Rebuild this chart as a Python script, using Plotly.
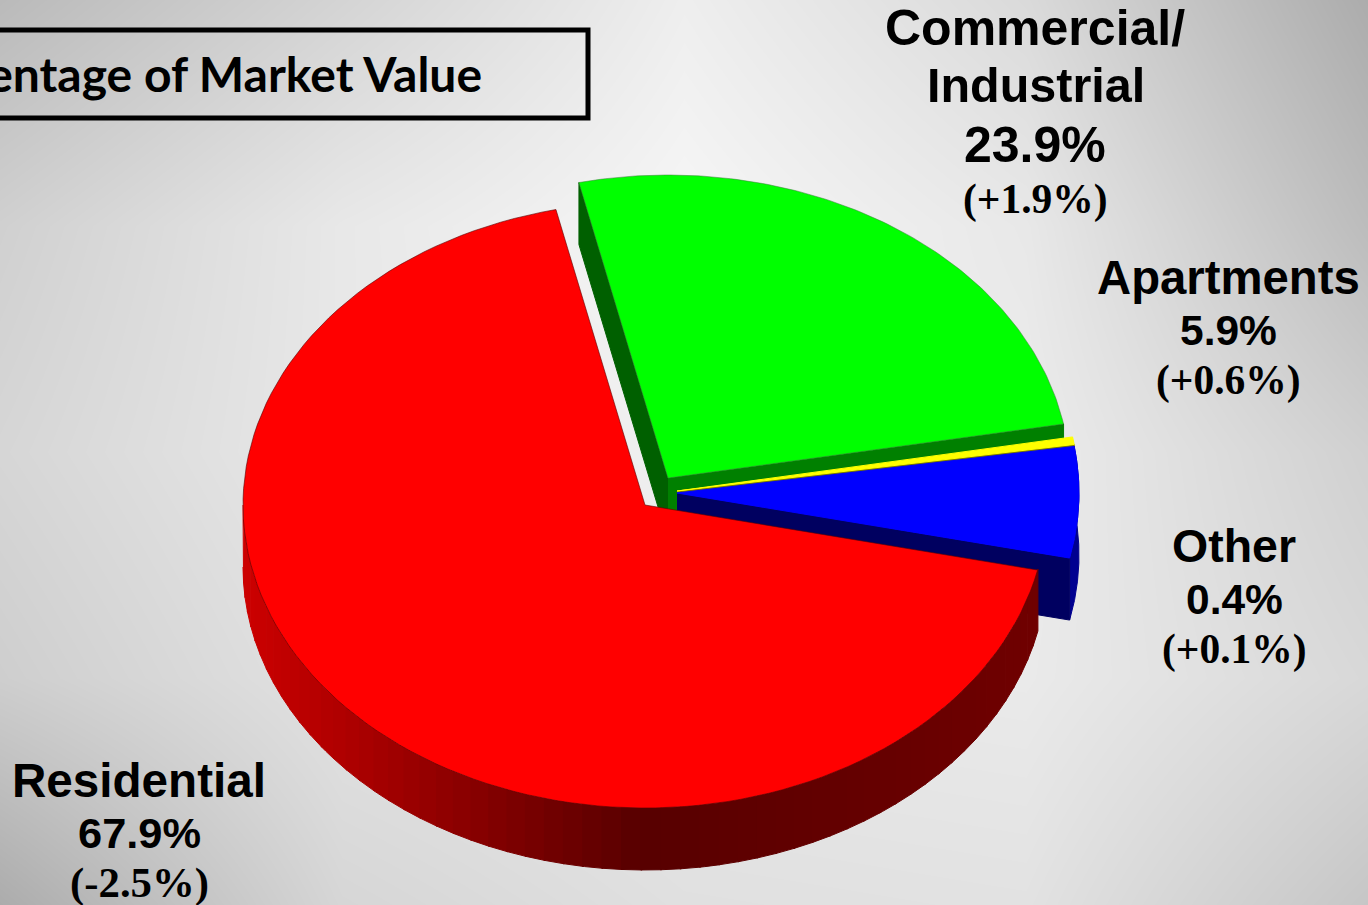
import numpy as np
import plotly.graph_objects as go


# Slices as they are labelled on the slide
labels = ["Apartments", "Other", "Commercial/Industrial", "Residential"]
label_pct = ["5.9%", "0.4%", "23.9%", "67.9%"]
label_change = ["(+0.6%)", "(+0.1%)", "(+1.9%)", "(-2.5%)"]

# Share of the ellipse each slice covers as drawn (perspective widens the green one)
drawn_share = [5.9, 0.4, 25.7, 68.0]

# Background greys
bg_x = [0, 342, 684, 1026, 1368]
bg_y = [0, 226, 452, 678, 905]
bg_grey = [
    [186, 212, 238, 218, 172],
    [208, 232, 246, 232, 188],
    [214, 232, 240, 236, 208],
    [206, 226, 232, 234, 216],
    [172, 214, 224, 226, 198],
]

A, B, DEPTH = 402, 303, 62
START = -12.4  # angle of the blue/red edge, slices run counter clockwise from it


def arc(cx, cy, t0, t1, dy=0, n=120):
    t = np.radians(np.linspace(t0, t1, n))
    return cx + A * np.cos(t), cy - B * np.sin(t) + dy


def poly(fig, x, y, color, line=None, width=1):
    fig.add_trace(go.Scatter(
        x=list(x), y=list(y), mode="lines", fill="toself", fillcolor=color,
        line=dict(color=line or color, width=width), hoverinfo="skip", showlegend=False
    ))


def radial_wall(fig, cx, cy, t, color):
    x, y = arc(cx, cy, t, t, n=1)
    poly(fig, [cx, x[0], x[0], cx], [cy, y[0], y[0] + DEPTH, cy + DEPTH], color)


def top(fig, cx, cy, t0, t1, color, line=None, width=1):
    x, y = arc(cx, cy, t0, t1)
    poly(fig, np.r_[cx, x, cx], np.r_[cy, y, cy], color, line, width)


def outer_wall(fig, cx, cy, t0, t1, color):
    x, y = arc(cx, cy, t0, t1)
    x2, y2 = arc(cx, cy, t1, t0, dy=DEPTH)
    poly(fig, np.r_[x, x2], np.r_[y, y2], color)


shares = np.array(drawn_share) / sum(drawn_share) * 360
edges = START + np.r_[0, np.cumsum(shares)]

fig = go.Figure()
fig.add_trace(go.Heatmap(
    x=bg_x, y=bg_y, z=bg_grey, zmin=0, zmax=255, zsmooth="best", showscale=False,
    colorscale=[[0, "black"], [1, "white"]], hoverinfo="skip"
))

# Green slice, pulled out towards the top
green = (668, 478)
radial_wall(fig, *green, edges[3], "#006000")
radial_wall(fig, *green, edges[2], "#008000")
top(fig, *green, edges[2], edges[3], "#00ff00", "#3c7a3c", 0.5)

# Yellow sliver
yellow = (677, 491)
radial_wall(fig, *yellow, edges[1], "#7a7a00")
top(fig, *yellow, edges[1], edges[2], "#ffff00")

# Blue slice
blue = (677, 493)
outer_wall(fig, *blue, edges[0], edges[1], "#000090")
radial_wall(fig, *blue, edges[0], "#000060")
top(fig, *blue, edges[0], edges[1], "#0000ff")

# Red slice, outer wall shaded in small steps
red = (645, 505)
wall_x = [243, 500, 640, 1040]
wall_red = [205, 128, 88, 112]
steps = np.linspace(180, 360 + START, 61)
for t0, t1 in zip(steps[:-1], steps[1:]):
    mid = red[0] + A * np.cos(np.radians((t0 + t1) / 2))
    shade = int(np.interp(mid, wall_x, wall_red))
    outer_wall(fig, *red, t0, t1 + 0.2, f"rgb({shade},0,0)")
top(fig, *red, edges[3], edges[4], "#ff0000", "#5a0000", 0.6)

# Title box runs off the left edge of the slide
fig.add_shape(type="rect", x0=-20, x1=588, y0=30, y1=118, line=dict(color="black", width=5))


def text(s, x, y, size, family="Liberation Sans", anchor="center"):
    fig.add_annotation(
        x=x, y=y, text=f"<b>{s}</b>", showarrow=False, xanchor=anchor, yanchor="middle",
        font=dict(family=family, size=size, color="black")
    )


text("Percentage of Market Value", 484, 73, 48, "Lato", "right")

SERIF = "Liberation Serif"
com, ind = labels[2].split("/")
text(com + "/", 1035, 28, 50)
text(ind, 1036, 85, 48.5)
text(label_pct[2], 1035, 145, 50)
text(label_change[2], 1035, 199, 41.5, SERIF)
text(labels[0], 1228, 277, 47.3)
text(label_pct[0], 1228, 330, 42.5)
text(label_change[0], 1228, 380, 41.5, SERIF)
text(labels[1], 1234, 546, 46.5)
text(label_pct[1], 1234, 599, 42.5)
text(label_change[1], 1234, 649, 41.5, SERIF)
text(labels[3], 139, 780, 47.6)
text(label_pct[3], 139, 833, 43.4)
text(label_change[3], 139, 883, 42.8, SERIF)

fig.update_layout(
    width=1368, height=905, margin=dict(l=0, r=0, t=0, b=0), autosize=False,
    paper_bgcolor="white", plot_bgcolor="white", showlegend=False
)
fig.update_xaxes(range=[0, 1368], visible=False, fixedrange=True)
fig.update_yaxes(range=[905, 0], visible=False, fixedrange=True)
fig.write_html("out.html", config=dict(displayModeBar=False),
               post_script="document.body.style.margin='0';document.documentElement.style.overflow='hidden';")
